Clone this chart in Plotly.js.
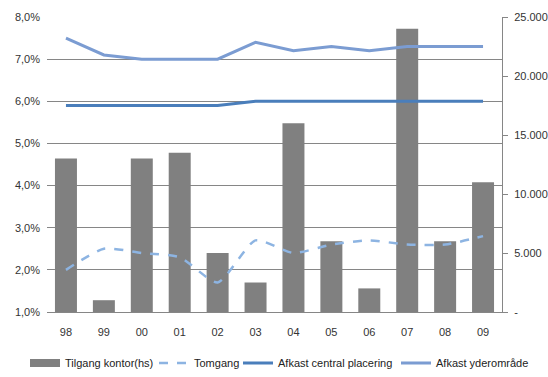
<!DOCTYPE html>
<html>
<head>
<meta charset="utf-8">
<script src="https://cdn.plot.ly/plotly-3.0.1.min.js"></script>
<style>html,body{margin:0;padding:0;background:#fff;}#chart{width:548px;height:377px;}</style>
</head>
<body>
<div id="chart"></div>
<script>
var years = ['98','99','00','01','02','03','04','05','06','07','08','09'];
var tilgang = [13000, 1000, 13000, 13500, 5000, 2500, 16000, 6000, 2000, 24000, 6000, 11000];
var tomgang = [2.0, 2.5, 2.4, 2.3, 1.7, 2.7, 2.4, 2.6, 2.7, 2.6, 2.6, 2.8];
var afkastCentral = [5.9, 5.9, 5.9, 5.9, 5.9, 6.0, 6.0, 6.0, 6.0, 6.0, 6.0, 6.0];
var afkastYder = [7.5, 7.1, 7.0, 7.0, 7.0, 7.4, 7.2, 7.3, 7.2, 7.3, 7.3, 7.3];
var rightTickVals = [0, 5000, 10000, 15000, 20000, 25000];
var rightTickText = ['-', '5.000', '10.000', '15.000', '20.000', '25.000'];

var fontFam = '"Liberation Sans", Arial, sans-serif';

var data = [
  {type:'bar', x: years, y: tilgang, name:'Tilgang kontor(hs)', yaxis:'y',
   marker:{color:'#808080'}, showlegend:false},
  {type:'scatter', mode:'lines', x:[null], y:[null], name:'Tilgang kontor(hs)', yaxis:'y',
   line:{color:'#808080', width:8}, legend:'legend', hoverinfo:'skip'},
  {type:'scatter', mode:'lines', x: years, y: tomgang, name:'Tomgang', yaxis:'y2',
   line:{color:'#8DB4E2', width:2.5, dash:'dash', shape:'spline', smoothing:0.6}, legend:'legend2'},
  {type:'scatter', mode:'lines', x: years, y: afkastCentral, name:'Afkast central placering', yaxis:'y2',
   line:{color:'#4A7EBB', width:3}, legend:'legend3'},
  {type:'scatter', mode:'lines', x: years, y: afkastYder, name:'Afkast yderområde', yaxis:'y2',
   line:{color:'#7B9CD2', width:3}, legend:'legend4'}
];

function leg(px){
  return {orientation:'h', xref:'container', yref:'container', x: px/548, xanchor:'left',
          y: 1-363/377, yanchor:'middle', font:{family:fontFam, size:11, color:'#222'},
          itemwidth:30, bgcolor:'rgba(0,0,0,0)', borderwidth:0};
}

var layout = {
  width:548, height:377,
  margin:{l:47, r:46, t:17, b:65, autoexpand:false},
  paper_bgcolor:'#fff', plot_bgcolor:'#fff',
  separators:',.',
  font:{family:fontFam, size:11, color:'#333'},
  bargap:0.42,
  showlegend:true,
  legend: leg(25),
  legend2: leg(154),
  legend3: leg(238),
  legend4: leg(396),
  xaxis:{type:'category', showline:true, linecolor:'#868686', linewidth:1, ticks:'',
         showgrid:false, tickfont:{size:11}, ticklabelstandoff:10},
  yaxis:{side:'right', range:[0,25000], tickvals:rightTickVals, ticktext:rightTickText,
         showgrid:false, showline:true, linecolor:'#868686', linewidth:1,
         ticks:'outside', ticklen:5, tickcolor:'#868686', zeroline:false, tickfont:{size:11},
         ticklabelstandoff:4, fixedrange:true},
  yaxis2:{side:'left', overlaying:'y', range:[1,8], dtick:1, tick0:1,
          tickformat:'.1f', ticksuffix:'%', showgrid:true, gridcolor:'#868686', gridwidth:1,
          showline:false, zeroline:false, ticks:'', tickfont:{size:11}, ticklabelstandoff:6}
};

Plotly.newPlot('chart', data, layout, {displayModeBar:false, staticPlot:true});
</script>
</body>
</html>
